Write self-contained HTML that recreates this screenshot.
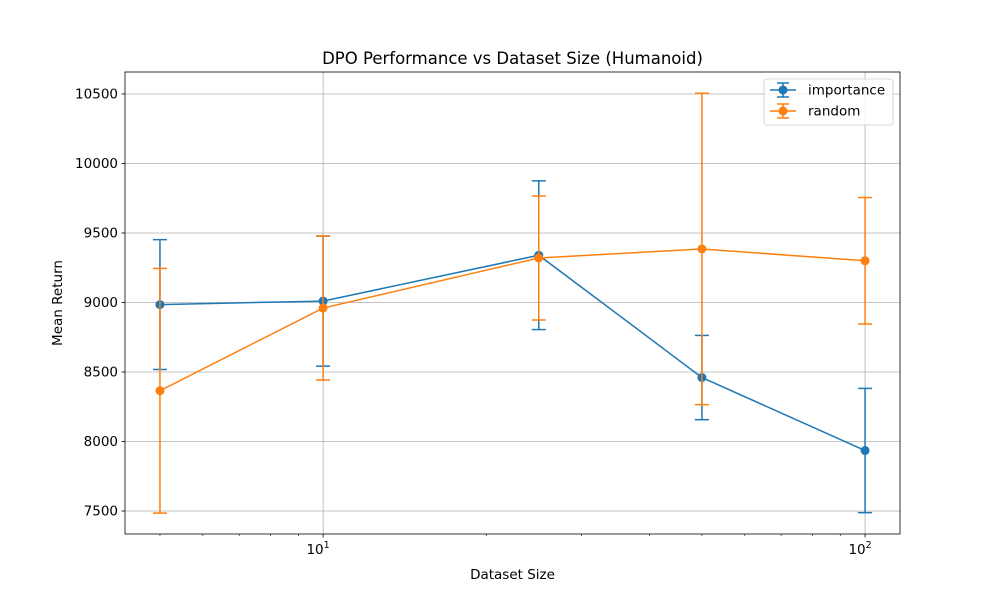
<!DOCTYPE html>
<html><head><meta charset="utf-8"><style>
body{margin:0;background:#fff;}
svg{font-family:"DejaVu Sans","Liberation Sans",sans-serif;}
</style></head><body>
<svg id="chart" width="1000" height="600">
<rect width="1000" height="600" fill="#fff"/>
<g id="grid"></g><g id="axes"></g><g id="series"></g>
</svg>
<script>
const xValues=[5,10,25,50,100];
const importanceMean=[8985,9010,9340,8460,7935];
const importanceErr=[467,468,535,303,447];
const randomMean=[8365,8960,9320,9385,9300];
const randomErr=[880,518,446,1120,455];
const yTicks=[7500,8000,8500,9000,9500,10000,10500];
const seriesNames=['importance','random'];
const colors=['#1f77b4','#ff7f0e'];

const L=125,R=900,T=72,B=534;
const xmin=Math.log10(4.31),xmax=Math.log10(116);
const ymin=7334.5,ymax=10658;
const X=v=>L+(Math.log10(v)-xmin)/(xmax-xmin)*(R-L);
const Y=v=>B-(v-ymin)/(ymax-ymin)*(B-T);
const NS='http://www.w3.org/2000/svg';
function mk(tag,attrs,parent,text){const e=document.createElementNS(NS,tag);for(const k in attrs)e.setAttribute(k,attrs[k]);if(text!==undefined)e.textContent=text;parent.appendChild(e);return e;}
const grid=document.getElementById('grid'),axes=document.getElementById('axes'),ser=document.getElementById('series');

yTicks.forEach(t=>{
 const g=mk('line',{x1:L,x2:R,y1:Y(t),y2:Y(t),stroke:'#b0b0b0','stroke-width':0.8},grid);
 
 
 mk('line',{x1:L-3.5,x2:L,y1:Y(t),y2:Y(t),stroke:'#000','stroke-width':0.8},axes);
 const tx=mk('text',{x:L-7,y:Y(t)+4.5,'text-anchor':'end','font-size':13.5},axes,t);
 
 
});
[10,100].forEach(d=>{
 const g=mk('line',{x1:X(d),x2:X(d),y1:T,y2:B,stroke:'#b0b0b0','stroke-width':0.8},grid);
 
 
 mk('line',{x1:X(d),x2:X(d),y1:B,y2:B+3.5,stroke:'#000','stroke-width':0.8},axes);
 const tx=mk('text',{x:X(d)-5,y:B+20,'text-anchor':'middle','font-size':13.5},axes,'10');
 mk('tspan',{dy:-6,'font-size':9.5},tx,d===10?'1':'2');
 
 
});
[5,6,7,8,9,20,30,40,50,60,70,80,90].forEach(m=>{
 mk('line',{x1:X(m),x2:X(m),y1:B,y2:B+2,stroke:'#000','stroke-width':0.6},axes);
});
const frame=mk('rect',{x:L,y:T,width:R-L,height:B-T,fill:'none',stroke:'#000','stroke-width':0.8},axes);


const title=mk('text',{x:(L+R)/2,y:64,'text-anchor':'middle','font-size':16.5},axes,'DPO Performance vs Dataset Size (Humanoid)');


const xl=mk('text',{x:(L+R)/2,y:579,'text-anchor':'middle','font-size':13.5},axes,'Dataset Size');


const yl=mk('text',{x:0,y:0,'text-anchor':'middle','font-size':13.5,transform:`translate(62,${(T+B)/2}) rotate(-90)`},axes,'Mean Return');



[[importanceMean,importanceErr],[randomMean,randomErr]].forEach(([m,e],si)=>{
 const c=colors[si];
 const g=mk('g',{},ser);
 
 
 xValues.forEach((x,i)=>{
  const px=X(x);
  mk('line',{x1:px,x2:px,y1:Y(m[i]+e[i]),y2:Y(m[i]-e[i]),stroke:c,'stroke-width':1.5},g);
  [m[i]+e[i],m[i]-e[i]].forEach(v=>mk('line',{x1:px-7,x2:px+7,y1:Y(v),y2:Y(v),stroke:c,'stroke-width':1.5},g));
 });
 mk('polyline',{points:xValues.map((x,i)=>X(x)+','+Y(m[i])).join(' '),fill:'none',stroke:c,'stroke-width':1.5},g);
 xValues.forEach((x,i)=>{
  const p=mk('circle',{cx:X(x),cy:Y(m[i]),r:4.5,fill:c},g);
  
  
 });
});

const lg=mk('g',{},axes);


mk('rect',{x:764,y:79,width:129,height:46,rx:3,fill:'#fff','fill-opacity':0.8,stroke:'#ccc','stroke-width':0.8},lg);
seriesNames.forEach((n,i)=>{
 const y=90+i*21,c=colors[i];
 mk('line',{x1:770,x2:796,y1:y,y2:y,stroke:c,'stroke-width':1.5},lg);
 mk('line',{x1:783,x2:783,y1:y-7,y2:y+7,stroke:c,'stroke-width':1.5},lg);
 mk('line',{x1:777,x2:789,y1:y-7,y2:y-7,stroke:c,'stroke-width':1.5},lg);
 mk('line',{x1:777,x2:789,y1:y+7,y2:y+7,stroke:c,'stroke-width':1.5},lg);
 mk('circle',{cx:783,cy:y,r:4.5,fill:c},lg);
 const t=mk('text',{x:808,y:y+4.5,'font-size':13.5},lg,n);
 
 
});
</script>
</body></html>
